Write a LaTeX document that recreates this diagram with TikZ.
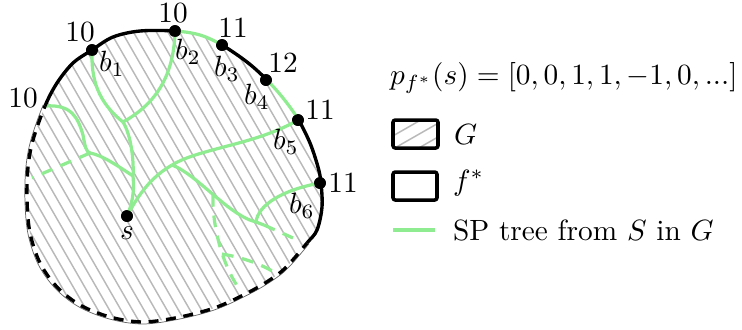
\documentclass[tikz,border=0pt]{standalone}
\usetikzlibrary{calc}
\definecolor{treegreen}{RGB}{144,236,144}
\tikzset{
  bnd/.style={line width=1.15pt, black},
  bnddash/.style={bnd, dash pattern=on 3.4pt off 2.6pt},
  tree/.style={treegreen, line width=1.1pt},
  treedash/.style={tree, dash pattern=on 4pt off 3pt},
  hatchline/.style={gray!55, line width=0.5pt},
  dot/.style={circle, fill=black, inner sep=0pt, minimum size=4pt},
  lbl/.style={inner sep=0.5pt},
  legbox/.style={line width=1.2pt, rounded corners=0.8pt},
}
\newcommand\bndpath{plot[smooth cycle, tension=0.55] coordinates {(45,106) (57,83) (73,63) (92,50) (113,37) (140,31) (175,31) (200,35) (222,45) (247,62) (266,79) (283,98) (298,119) (310,143) (318,167) (321,183) (322,207) (317,230) (307,243) (290,263) (277,275) (253,290) (217,307) (180,317) (143,322) (110,317) (80,305) (57,287) (40,263) (30,233) (27,200) (28,167) (33,140)}}
\begin{document}
\begin{tikzpicture}[x=0.012cm, y=-0.012cm]
\useasboundingbox (0,0) rectangle (742,329);

% key points
\coordinate (c) at (175,180);
\coordinate (pL) at (45,106);
\coordinate (pE) at (307,243);

% hatching of G
\begin{scope}
  \clip \bndpath;
  \foreach \i in {-16,...,30} \draw[hatchline] (\i*11.5,0) -- ++(190,330);
\end{scope}
\begin{scope}
  \clip (c) -- ($(c)!4!(pL)$) -- (-400,900) -- (1000,900) -- (1000,440) -- ($(c)!4!(pE)$) -- cycle;
  \draw[line width=0.25pt, gray!80!black, scale around={1.014:(175,180)}] \bndpath;
\end{scope}

\node[dot] (b1) at (92,50) {};
\node[dot] (b2) at (175,31) {};
\node[dot] (b3) at (222,45) {};
\node[dot] (b4) at (266,80) {};
\node[dot] (b5) at (298,120) {};
\node[dot] (b6) at (320,183) {};
\node[dot] (s) at (127,216) {};

% tree
\coordinate (jS) at (133,176);
\coordinate (jT) at (123,122);
\coordinate (jL) at (90,153);
\coordinate (dL) at (32,178);
\coordinate (jM) at (172,165);
\coordinate (jR) at (256,222);
\coordinate (eR) at (264,225);
\coordinate (dR) at (293,238);
\coordinate (jD) at (213,195);
\coordinate (dD) at (240,290);
\coordinate (jD2) at (222,254);
\coordinate (dD2) at (277,274);

\draw[tree] (s.center) .. controls (134,200) and (134,186) .. (jS);
\draw[tree] (jS) .. controls (134,160) and (131,135) .. (jT);
\draw[tree] (jT) .. controls (98,102) and (91,80) .. (b1.center);
\draw[tree] (jT) .. controls (152,106) and (174,80) .. (b2.center);
\draw[tree] (jS) .. controls (118,166) and (102,155) .. (jL);
\draw[tree] (pL) .. controls (72,104) and (78,118) .. (83,135) .. controls (85,146) and (86,152) .. (jL);
\draw[treedash] (jL) -- (dL);
\draw[tree] (s.center) .. controls (142,188) and (155,175) .. (jM);
\draw[tree] (jM) .. controls (200,148) and (255,145) .. (b5.center);
\draw[tree] (jM) .. controls (198,175) and (228,215) .. (jR) -- (eR);
\draw[tree] (jR) .. controls (258,205) and (282,190) .. (b6.center);
\draw[treedash] (eR) -- (dR);
\draw[treedash] (jD) .. controls (212,225) and (222,265) .. (dD);
\draw[treedash] (jD2) .. controls (240,257) and (260,263) .. (dD2);

% boundary of f*: solid black parts
\begin{scope}
  \clip (c) -- ($(c)!4!(pL)$) -- (-400,-600) -- ($(c)!4!(b2)$) -- cycle;
  \draw[bnd] \bndpath;
\end{scope}
\begin{scope}
  \clip (c) -- ($(c)!4!(b3)$) -- ($(c)!4!(b4)$) -- cycle;
  \draw[bnd] \bndpath;
\end{scope}
\begin{scope}
  \clip (c) -- ($(c)!4!(b5)$) -- (1000,-100) -- (1000,440) -- ($(c)!4!(pE)$) -- cycle;
  \draw[bnd] \bndpath;
\end{scope}
% dashed part
\begin{scope}
  \clip (c) -- ($(c)!4!(pL)$) -- (-400,900) -- (1000,900) -- (1000,440) -- ($(c)!4!(pE)$) -- cycle;
  \draw[bnddash] \bndpath;
\end{scope}
% tree edges along the boundary
\begin{scope}
  \clip (c) -- ($(c)!4!(b2)$) -- ($(c)!4!(b3)$) -- cycle;
  \draw[tree] \bndpath;
\end{scope}
\begin{scope}
  \clip (c) -- ($(c)!4!(b4)$) -- ($(c)!4!(b5)$) -- cycle;
  \draw[tree] \bndpath;
\end{scope}

% dots on top
\foreach \n in {b1,b2,b3,b4,b5,b6,s} \fill (\n.center) circle[radius=2pt];

% labels
\node[lbl] (n0) at (23,98) {10};
\node[lbl] (n1) at (80,32) {10};
\node[lbl] (n2) at (173,13) {10};
\node[lbl] (n3) at (233,28) {11};
\node[lbl] (n4) at (283,63) {12};
\node[lbl] (n5) at (320,110) {11};
\node[lbl] (n6) at (343,183) {11};
\node[lbl] (l1) at (112,64) {$b_1$};
\node[lbl] (l2) at (188,52) {$b_2$};
\node[lbl] (l3) at (227,69) {$b_3$};
\node[lbl] (l4) at (257,97) {$b_4$};
\node[lbl] (l5) at (286,142) {$b_5$};
\node[lbl] (l6) at (302,206) {$b_6$};
\node[lbl] (ls) at (127,233) {$s$};

% legend
\node[lbl, anchor=west] (pf) at (388,78) {$p_{f^*}(s) = [0,0,1,1,-1,0,...]$};
\begin{scope}
  \clip (393,120) rectangle (438,148);
  \foreach \x in {398,421,445} \draw[hatchline] (\x-35,153) -- (\x+35,113);
\end{scope}
\draw[legbox] (393,120) rectangle (438,148);
\node[lbl, anchor=west] (tG) at (452,134) {$G$};
\draw[legbox] (393,172) rectangle (437,200);
\node[lbl, anchor=west] (tf) at (451,183) {$f^*$};
\coordinate (g1) at (393,230);
\coordinate (g2) at (435,230);
\draw[tree] (g1) -- (g2);
\node[lbl, anchor=west] (tS) at (451,230) {SP tree from $S$ in $G$};
\end{tikzpicture}
\end{document}
